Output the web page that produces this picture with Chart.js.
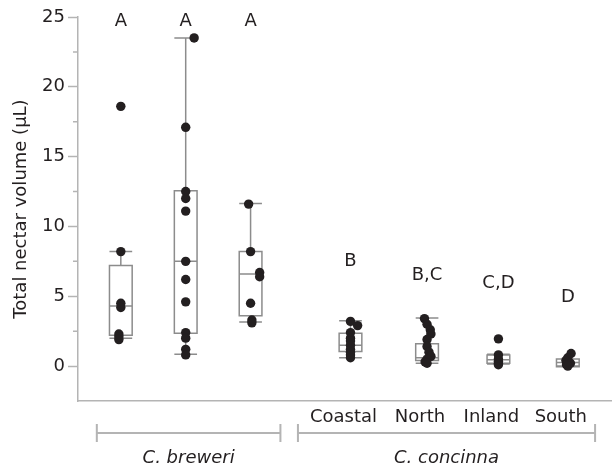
<!DOCTYPE html>
<html>
<head>
<meta charset="utf-8">
<script src="https://cdn.jsdelivr.net/npm/chart.js@4"></script>
<style>
  html, body { margin: 0; padding: 0; background: #fff; }
  #wrap { width: 616px; height: 470px; }
</style>
</head>
<body>
<div id="wrap"><canvas id="myChart"></canvas></div>
<script>
// groups, left to right
const groups = ['breweri 1', 'breweri 2', 'breweri 3', 'Coastal', 'North', 'Inland', 'South'];
const popLabels = ['', '', '', 'Coastal', 'North', 'Inland', 'South'];
const species = ['C. breweri', 'C. concinna'];
const letters = ['A', 'A', 'A', 'B', 'B,C', 'C,D', 'D'];
const yTicks = [0, 5, 10, 15, 20, 25];

// nectar volume per flower (µL)
const values = [
    [18.6, 8.2, 4.5, 4.2, 2.3, 2.1, 1.9],
    [23.5, 17.1, 12.5, 12.0, 11.1, 7.5, 6.2, 4.6, 2.4, 2.0, 1.2, 0.8],
    [11.6, 8.2, 6.7, 6.4, 4.5, 3.3, 3.1],
    [3.2, 2.9, 2.4, 2.0, 1.8, 1.5, 1.2, 1.0, 0.8, 0.6],
    [3.4, 3.0, 2.6, 2.3, 1.9, 1.4, 1.0, 0.7, 0.5, 0.3, 0.2],
    [1.95, 0.8, 0.5, 0.35, 0.2, 0.1],
    [0.9, 0.6, 0.4, 0.2, 0.1, 0.0],
];

// box statistics
const whiskerLow = [2.0, 0.85, 3.15, 0.6, 0.2, 0.15, 0.0];
const q1 = [2.2, 2.35, 3.6, 1.05, 0.4, 0.2, -0.05];
const median = [4.3, 7.5, 6.6, 1.5, 0.6, 0.45, 0.25];
const q3 = [7.2, 12.55, 8.2, 2.35, 1.6, 0.8, 0.5];
const whiskerHigh = [8.2, 23.5, 11.65, 3.25, 3.45, 0.85, 0.5];

// layout (x slots, jitter, letter heights, brackets)
const slotX = [0, 1, 2, 3.54, 4.72, 5.82, 6.89];
const jitter = [
    [0, 0, 0, 0, -0.03, -0.03, -0.03],
    [0.13, 0, 0, 0, 0, 0, 0, 0, 0, 0, 0, 0],
    [-0.03, 0, 0.14, 0.14, 0, 0.02, 0.02],
    [0, 0.11, 0, 0, 0, 0, 0, 0, 0, 0],
    [-0.04, 0, 0.05, 0.06, 0, 0, 0.03, 0.06, 0, -0.03, 0],
    [0, 0, 0, 0, 0, 0],
    [0.05, 0, -0.03, 0.04, -0.02, 0],
];
const letterY = [24.7, 24.7, 24.7, 7.5, 6.5, 5.9, 4.95];
const brackets = [[-0.37, 2.46], [2.73, 7.31]];
const boxHalf = 0.175;

const grey = '#b4b4b4';
const boxGrey = '#8c8c8c';
const ink = '#231f20';
const fontFamily = '"DejaVu Sans", sans-serif';
const fontSize = 18;

const points = [];
values.forEach((arr, g) => {
    arr.forEach((v, i) => {
        points.push({ x: slotX[g] + jitter[g][i], y: v });
    });
});

const boxPlugin = {
    id: 'boxes',
    beforeDatasetsDraw(chart) {
        const ctx = chart.ctx;
        const xs = chart.scales.x;
        const ys = chart.scales.y;
        ctx.save();
        ctx.strokeStyle = boxGrey;
        ctx.lineWidth = 1.5;
        groups.forEach((g, i) => {
            const xl = xs.getPixelForValue(slotX[i] - boxHalf);
            const xr = xs.getPixelForValue(slotX[i] + boxHalf);
            const xc = xs.getPixelForValue(slotX[i]);
            const yq1 = ys.getPixelForValue(q1[i]);
            const yq3 = ys.getPixelForValue(q3[i]);
            const ym = ys.getPixelForValue(median[i]);
            const ylo = ys.getPixelForValue(whiskerLow[i]);
            const yhi = ys.getPixelForValue(whiskerHigh[i]);
            ctx.beginPath();
            ctx.moveTo(xc, yq3); ctx.lineTo(xc, yhi);
            ctx.moveTo(xc, yq1); ctx.lineTo(xc, ylo);
            ctx.moveTo(xl, yhi); ctx.lineTo(xr, yhi);
            ctx.moveTo(xl, ylo); ctx.lineTo(xr, ylo);
            ctx.moveTo(xl, ym); ctx.lineTo(xr, ym);
            ctx.rect(xl, yq3, xr - xl, yq1 - yq3);
            ctx.stroke();
        });
        ctx.restore();
    },
    afterDraw(chart) {
        const ctx = chart.ctx;
        const xs = chart.scales.x;
        const ys = chart.scales.y;
        const area = chart.chartArea;
        ctx.save();

        // minor ticks on y
        ctx.strokeStyle = grey;
        ctx.lineWidth = 1.5;
        ctx.beginPath();
        for (let v = 2.5; v < 25; v += 5) {
            const y = ys.getPixelForValue(v);
            ctx.moveTo(area.left - 5, y);
            ctx.lineTo(area.left, y);
        }
        ctx.stroke();

        // significance letters
        ctx.fillStyle = ink;
        ctx.font = fontSize + 'px ' + fontFamily;
        ctx.textAlign = 'center';
        ctx.textBaseline = 'middle';
        letters.forEach((t, i) => {
            ctx.fillText(t, xs.getPixelForValue(slotX[i]), ys.getPixelForValue(letterY[i]));
        });

        // population labels
        popLabels.forEach((t, i) => {
            if (t) ctx.fillText(t, xs.getPixelForValue(slotX[i]) - 7, area.bottom + 16);
        });

        // species brackets
        const by = area.bottom + 32;
        ctx.strokeStyle = grey;
        ctx.lineWidth = 2;
        brackets.forEach((b, i) => {
            const x0 = xs.getPixelForValue(b[0]);
            const x1 = xs.getPixelForValue(b[1]);
            ctx.beginPath();
            ctx.moveTo(x0, by); ctx.lineTo(x1, by);
            ctx.moveTo(x0, by - 9); ctx.lineTo(x0, by + 9);
            ctx.moveTo(x1, by - 9); ctx.lineTo(x1, by + 9);
            ctx.stroke();
            ctx.font = 'italic ' + fontSize + 'px ' + fontFamily;
            ctx.fillText(species[i], (x0 + x1) / 2, area.bottom + 57);
        });
        ctx.restore();
    }
};

const config = {
    type: 'scatter',
    data: {
        datasets: [{
            label: 'Nectar volume',
            data: points,
            backgroundColor: ink,
            borderWidth: 0,
            pointRadius: 4.7,
        }]
    },
    options: {
        responsive: true,
        maintainAspectRatio: false,
        animation: false,
        layout: { padding: { top: 17, bottom: 69, left: 0, right: 0 } },
        plugins: {
            legend: { display: false },
            tooltip: { enabled: false },
        },
        scales: {
            x: {
                type: 'linear',
                min: -0.66,
                max: 7.56,
                ticks: { display: false },
                grid: { display: false, drawTicks: false },
                border: { display: true, color: grey, width: 1.5 },
                afterFit: (scale) => { scale.height = 0; },
            },
            y: {
                min: -2.5,
                max: 25,
                afterBuildTicks: (scale) => { scale.ticks = yTicks.map(v => ({ value: v })); },
                ticks: {
                    padding: 3,
                    color: ink,
                    font: { family: fontFamily, size: fontSize },
                },
                grid: { drawOnChartArea: false, drawTicks: true, tickLength: 10, tickColor: grey, tickWidth: 1.5 },
                border: { color: grey, width: 1.5 },
                title: {
                    display: true,
                    text: 'Total nectar volume (μL)',
                    color: ink,
                    font: { family: fontFamily, size: fontSize },
                    padding: { top: 11, bottom: 0 },
                },
                afterFit: (scale) => { scale.width = 78; },
            }
        }
    },
    plugins: [boxPlugin]
};

new Chart(document.getElementById('myChart'), config);
</script>
</body>
</html>
